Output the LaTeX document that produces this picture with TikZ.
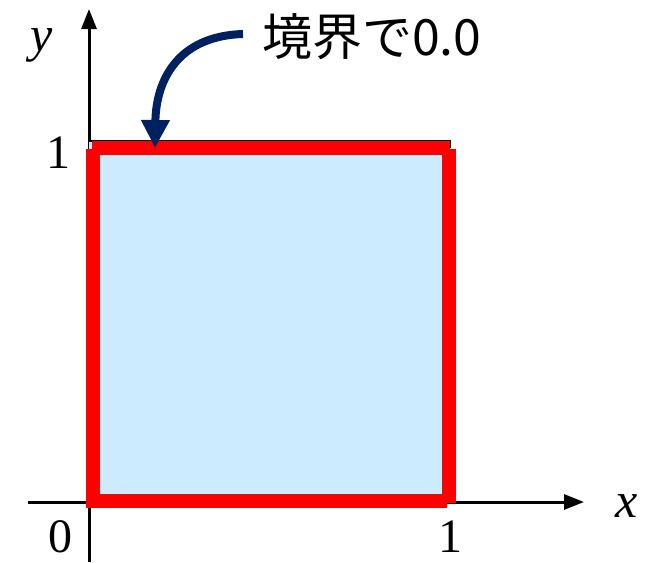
\documentclass[tikz,border=0pt]{standalone}
\usepackage{fontspec}
\setmainfont{Liberation Serif}
\newfontfamily\jpfont{Noto Sans CJK JP}
\usetikzlibrary{arrows.meta}
\definecolor{fillblue}{HTML}{CCEBFF}
\definecolor{bred}{HTML}{FF0000}
\definecolor{navy}{HTML}{002060}
\begin{document}
\begin{tikzpicture}[x=1pt,y=-1pt,
  axis/.style={line width=3pt,-{Triangle[length=20pt,width=15pt]}},
  redline/.style={bred,line width=14pt},
  lab/.style={inner sep=0pt,anchor=base,font=\fontsize{48}{58}\selectfont},
  note/.style={inner sep=0pt,anchor=base west,font=\jpfont\fontsize{50}{60}\selectfont}]
\useasboundingbox (0,0) rectangle (650,562);
% axes
\coordinate (xs) at (28,502); \coordinate (xe) at (584,502);
\coordinate (ys) at (89,562); \coordinate (ye) at (89,9);
\draw[axis] (xs) -- (xe);
\draw[axis] (ys) -- (ye);
% fill
\fill[fillblue] (89,141) rectangle (450,502);
% thin outline on top
\coordinate (tl) at (89,141);
\coordinate (tr) at (450,141);
\coordinate (trd) at (450,148);
\draw[line width=1.5pt] (tl) -- (tr) -- (trd);
% red borders
\coordinate (l1) at (93,149); \coordinate (l2) at (93,508);
\coordinate (t1) at (92,148); \coordinate (t2) at (450,148);
\coordinate (r1) at (449,149); \coordinate (r2) at (449,503);
\coordinate (b1) at (86,501); \coordinate (b2) at (447,501);
\draw[redline] (t1) -- (t2);
\draw[redline] (l1) -- (l2);
\draw[redline] (r1) -- (r2);
\draw[redline] (b1) -- (b2);
% labels
\node[lab,font=\itshape\fontsize{50}{60}\selectfont] (ylab) at (42,51) {y};
\node[lab,font=\itshape\fontsize{50}{60}\selectfont] (xlab) at (627,517) {x};
\node[lab] (one) at (58,168) {1};
\node[lab] (zero) at (60,552) {0};
\node[lab] (onex) at (450,552) {1};
\node[note] (txt) at (262,55) {境界で0.0};
% arrow
\coordinate (as) at (243,34);
\coordinate (ae) at (155,148);
\draw[navy,line width=8pt,-{Triangle[length=28pt,width=27pt]}] (as) .. controls (178,36) and (156,80) .. (ae);
\end{tikzpicture}
\end{document}
